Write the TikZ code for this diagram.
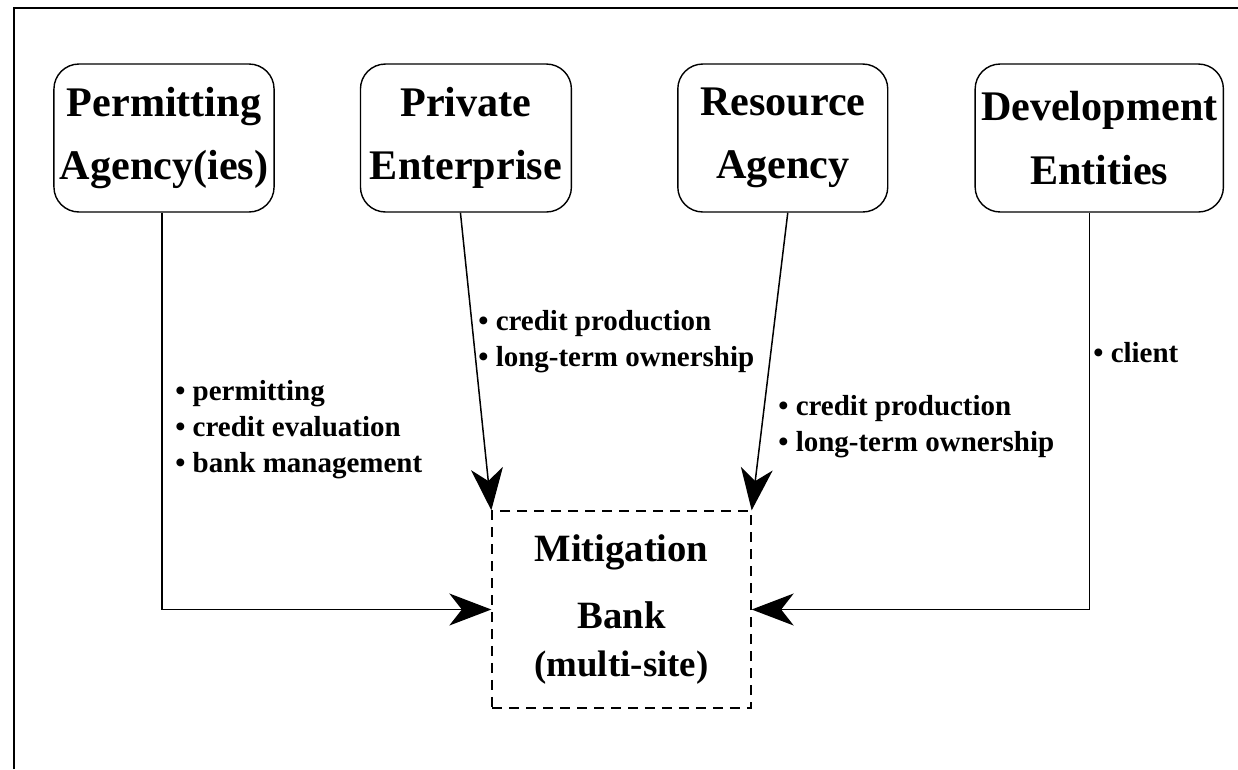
\documentclass[tikz,border=0pt]{standalone}
\usepackage{fontspec}
\setmainfont{Liberation Serif}
\usetikzlibrary{arrows.meta, positioning}

\begin{document}
\begin{tikzpicture}[
        x=0.02cm, y=-0.02cm,
        party/.style={rectangle, draw, rounded corners=0.5cm, line width=0.8pt, minimum height=2.96cm, align=center, font=\fontsize{24}{36}\selectfont\bfseries},
        bank/.style={rectangle, draw, dash pattern=on 0.2cm off 0.14cm, line width=0.8pt, minimum width=5.18cm, minimum height=3.94cm, align=center, font=\fontsize{22}{27}\selectfont\bfseries},
        role/.style={align=left, anchor=north west, inner sep=0pt, font=\fontsize{16.5}{20.4}\selectfont\bfseries},
        flow/.style={-{Stealth[length=0.84cm, width=0.64cm, inset=0.25cm]}, line width=0.85pt}
    ]
        \useasboundingbox (0,0) rectangle (1238,769);
        % frame (top and left edges only)
        \draw[line width=1.4pt] (14,769) -- (14,8) -- (1238,8);

        % parties
        \node[party, minimum width=4.24cm] (permit) at (164,138) {Permitting\\Agency(ies)};
        \node[party, minimum width=4.22cm, right=1.7cm of permit] (private) {Private\\Enterprise};
        \node[party, minimum width=4.2cm, right=2.1cm of private] (resource) {Resource\\Agency};
        \node[party, minimum width=4.76cm, right=1.72cm of resource] (develop) {Development\\Entities};

        % bank
        \node[bank] (bank) at (621.5,609.5) {Mitigation\\[0.4cm]Bank\\{\fontsize{21}{27}\selectfont(multi-site)}};

        % roles
        \node[role] (permitroles) at (175,380) {\textbullet\ permitting\\\textbullet\ credit evaluation\\\textbullet\ bank management};
        \node[role] (privateroles) at (478,310) {\textbullet\ credit production\\\textbullet\ long-term ownership};
        \node[role] (resourceroles) at (778,395) {\textbullet\ credit production\\\textbullet\ long-term ownership};
        \node[role] (developroles) at (1093,342) {\textbullet\ client};

        % connectors
        \draw[flow] ([xshift=-0.04cm]permit.south) |- (bank.west);
        \draw[flow] ([xshift=-0.2cm]develop.south) |- (bank.east);
        \draw[flow] ([xshift=-0.11cm]private.south) -- (bank.north west);
        \draw[flow] ([xshift=0.1cm]resource.south) -- (bank.north east);
    \end{tikzpicture}
\end{document}
